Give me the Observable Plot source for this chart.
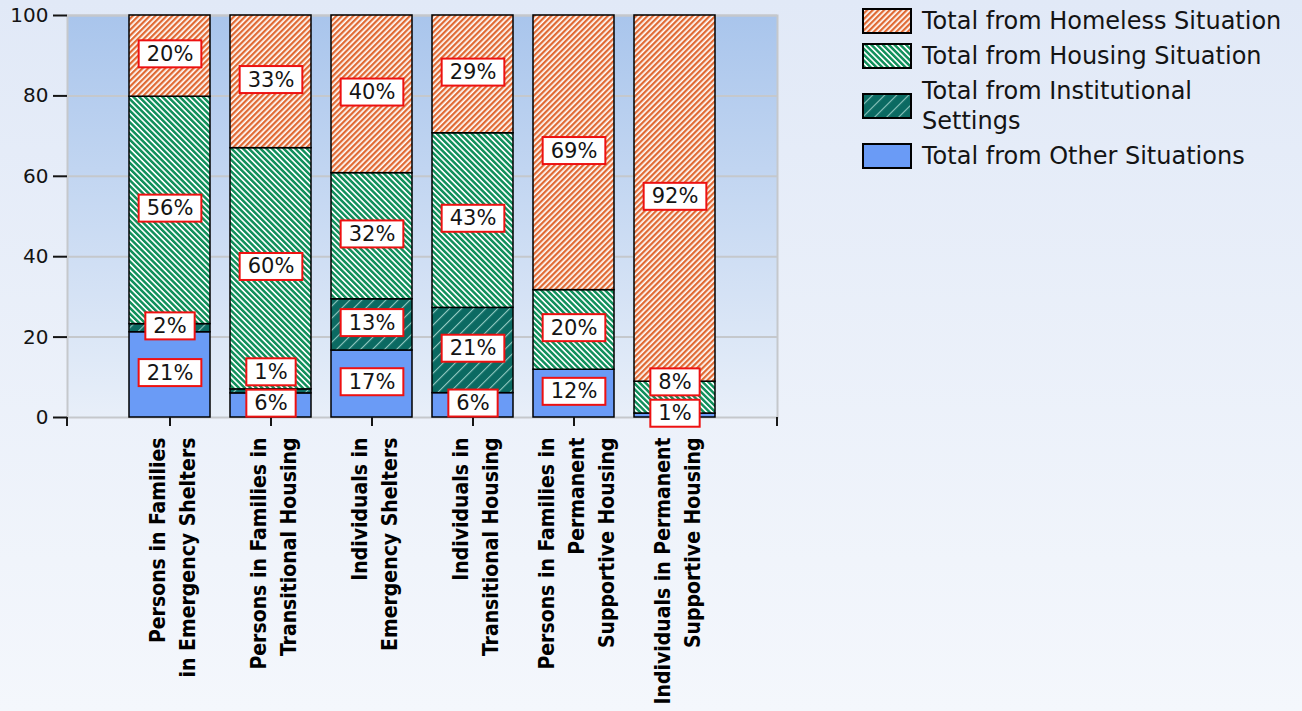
<!DOCTYPE html>
<html>
<head>
<meta charset="utf-8">
<script src="https://cdn.jsdelivr.net/npm/d3@7"></script>
<script src="https://cdn.jsdelivr.net/npm/@observablehq/plot@0.6"></script>
<style>
  body { margin: 0; width: 1302px; height: 711px; overflow: hidden;
         background: linear-gradient(#e1e9f7, #f4f7fc); font-family: "DejaVu Sans", sans-serif; }
  #wrap { position: relative; width: 1302px; height: 711px; }
  #legend { position: absolute; left: 862px; top: 6px; width: 440px; }
  .item { display: flex; align-items: center; margin-bottom: 5px; }
  .item svg { flex: none; margin-right: 10px; }
  .item span { font-size: 24px; line-height: 30px; color: #141414; width: 372px; }
</style>
</head>
<body>
<svg width="0" height="0" style="position:absolute">
  <defs>
    <pattern id="p-homeless" patternUnits="userSpaceOnUse" width="4" height="4" patternTransform="rotate(45)">
      <rect width="4" height="4" fill="#ffffff"/>
      <rect width="2.3" height="4" fill="#e06a34"/>
    </pattern>
    <pattern id="p-housing" patternUnits="userSpaceOnUse" width="4.1" height="4.1" patternTransform="rotate(-45)">
      <rect width="4.1" height="4.1" fill="#ffffff"/>
      <rect width="2.5" height="4.1" fill="#12905c"/>
    </pattern>
    <pattern id="p-inst" patternUnits="userSpaceOnUse" width="8.5" height="8.5" patternTransform="rotate(45)">
      <rect width="8.5" height="8.5" fill="#0b6a62"/>
      <rect width="1.1" height="8.5" fill="#a8d8d0" fill-opacity="0.85"/>
    </pattern>
    <linearGradient id="plotbg" x1="0" y1="0" x2="0" y2="1">
      <stop offset="0" stop-color="#a9c5ec"/>
      <stop offset="1" stop-color="#e8eff9"/>
    </linearGradient>
  </defs>
</svg>
<div id="wrap">
  <div id="legend"></div>
</div>
<script>
// ---- data ----
const categories = [
  "Persons in Families in Emergency Shelters",
  "Persons in Families in Transitional Housing",
  "Individuals in Emergency Shelters",
  "Individuals in Transitional Housing",
  "Persons in Families in Permanent Supportive Housing",
  "Individuals in Permanent Supportive Housing"
];
const categoryLabels = [
  "Persons in Families\nin Emergency Shelters",
  "Persons in Families in\nTransitional Housing",
  "Individuals in\nEmergency Shelters",
  "Individuals in\nTransitional Housing",
  "Persons in Families in\nPermanent\nSupportive Housing",
  "Individuals in Permanent\nSupportive Housing"
];
// stacked bottom to top
const series = [
  "Total from Other Situations",
  "Total from Institutional Settings",
  "Total from Housing Situation",
  "Total from Homeless Situation"
];
const other         = [21, 6, 17, 6, 12, 1];
const institutional = [2, 1, 13, 21, 0, 0];
const housing       = [56, 60, 32, 43, 20, 8];
const homeless      = [20, 33, 40, 29, 69, 92];
const yTicks = [0, 0.2, 0.4, 0.6, 0.8, 1];

const seriesValues = [other, institutional, housing, homeless];
const fills = ["#6a9bf6", "url(#p-inst)", "url(#p-housing)", "url(#p-homeless)"];

const rows = categories.flatMap((c, i) =>
  series.map((s, j) => ({category: c, series: s, value: seriesValues[j][i]})));

// label positions: segment midpoints (normalized), nudged up when too close
const minGap = 0.078;
const labelRows = [];
categories.forEach((c, i) => {
  const vals = seriesValues.map(a => a[i]);
  const total = d3.sum(vals);
  let cum = 0, prev = -Infinity;
  vals.forEach(v => {
    const mid = (cum + v / 2) / total;
    cum += v;
    if (v === 0) return;
    const pos = Math.max(mid, prev + minGap);
    prev = pos;
    labelRows.push({category: c, pos, text: v + "%"});
  });
});

const edgeTicks = (index, scales, values, dims) => {
  const g = d3.create("svg:g").attr("stroke", "#1a1a1a").attr("stroke-width", 2);
  const y0 = dims.height - dims.marginBottom;
  for (const x of [dims.marginLeft, dims.width - dims.marginRight]) {
    g.append("line").attr("x1", x).attr("x2", x).attr("y1", y0).attr("y2", y0 + 9);
  }
  return g.node();
};

const plot = Plot.plot({
  width: 1302,
  height: 711,
  marginLeft: 67,
  marginRight: 525,
  marginTop: 15,
  marginBottom: 294,
  style: {background: "transparent", fontFamily: "DejaVu Sans", fontSize: "20px", color: "#141414", overflow: "visible"},
  x: {domain: categories, paddingInner: 0.2, paddingOuter: 0.6, label: null},
  y: {domain: [0, 1], label: null},
  color: {domain: series, range: fills},
  marks: [
    Plot.frame({fill: "url(#plotbg)"}),
    Plot.gridY({ticks: yTicks.slice(1), stroke: "#c5c8cc", strokeOpacity: 1, strokeWidth: 2}),
    Plot.frame({stroke: "#c5c8cc", strokeWidth: 2}),
    Plot.barY(rows, Plot.stackY({x: "category", y: "value", fill: "series", offset: "normalize", stroke: "#000", strokeWidth: 1.5})),
    Plot.axisY({ticks: yTicks, tickSize: 14, tickPadding: 5, tickFormat: d => Math.round(d * 100), strokeWidth: 2, fontSize: 20}),
    Plot.axisX({tickSize: 9, tickFormat: () => "", strokeWidth: 2}),
    edgeTicks,
    Plot.text(labelRows, {x: "category", y: "pos", text: "text", fill: "#141414", fontSize: 21, dy: -2}),
    Plot.text(categories, {x: d => d, text: (d, i) => categoryLabels[i], frameAnchor: "bottom", dy: 20,
      rotate: -90, textAnchor: "end", lineAnchor: "middle", lineHeight: 1.43,
      fontWeight: "bold", fontSize: 21, fill: "#000", fontFamily: "DejaVu Sans Condensed, DejaVu Sans", fontStretch: "condensed"})
  ]
});

const wrap = document.getElementById("wrap");
wrap.insertBefore(plot, wrap.firstChild);

// label boxes: white fill, red border
const labelGroup = plot.querySelectorAll('g[aria-label="text"]')[0];
labelGroup.querySelectorAll("text").forEach(t => {
  const b = t.getBBox();
  const r = document.createElementNS("http://www.w3.org/2000/svg", "rect");
  const h = 27, padX = 8;
  r.setAttribute("x", b.x - padX);
  r.setAttribute("y", b.y + b.height / 2 - h / 2);
  r.setAttribute("width", b.width + 2 * padX);
  r.setAttribute("height", h);
  r.setAttribute("fill", "#ffffff");
  r.setAttribute("stroke", "#ee1111");
  r.setAttribute("stroke-width", 2);
  if (t.getAttribute("transform")) r.setAttribute("transform", t.getAttribute("transform"));
  t.parentNode.insertBefore(r, t);
});

// legend (top to bottom as in the reference)
const legend = d3.select("#legend");
[3, 2, 1, 0].forEach(j => {
  const item = legend.append("div").attr("class", "item");
  const sw = item.append("svg").attr("width", 50).attr("height", 26);
  sw.append("rect").attr("x", 1).attr("y", 1).attr("width", 48).attr("height", 24)
    .attr("fill", fills[j]).attr("stroke", "#000").attr("stroke-width", 2);
  item.append("span").text(series[j]);
});
</script>
</body>
</html>
